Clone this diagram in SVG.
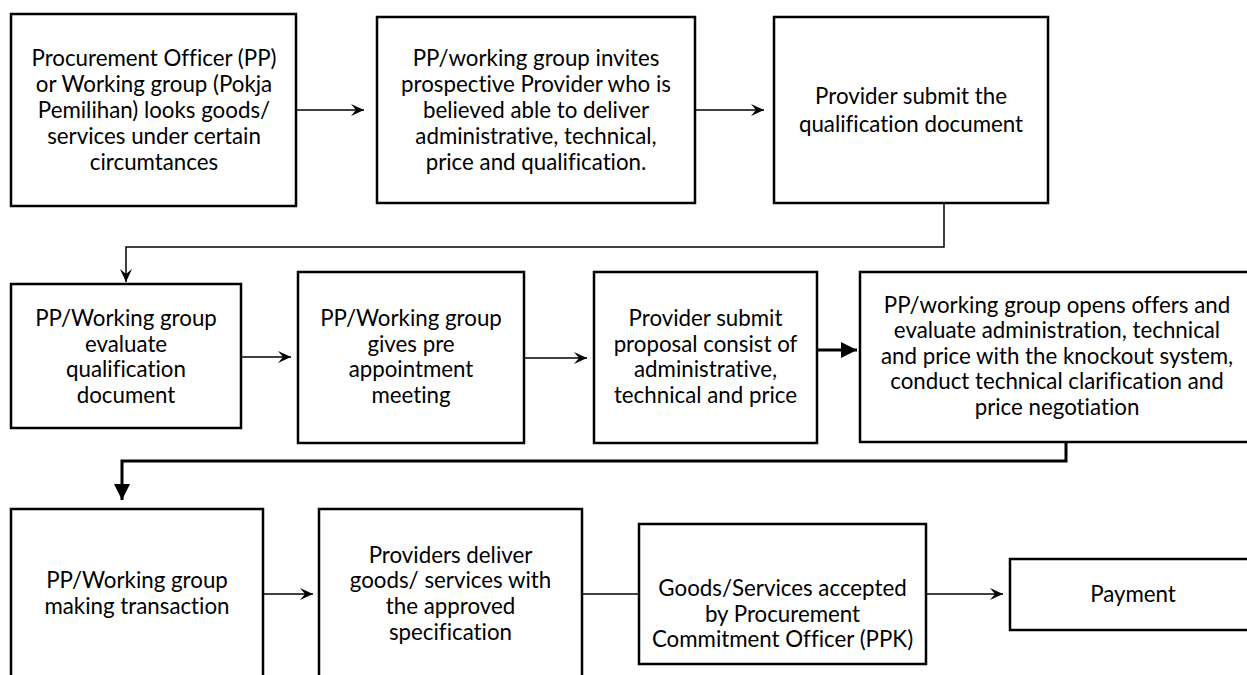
<svg xmlns="http://www.w3.org/2000/svg" width="1247" height="675" viewBox="0 0 1247 675">
  <style>
    .box { fill: #ffffff; stroke: #000000; stroke-width: 2.5; }
    .lbl { font-family: Lato, "Liberation Sans", sans-serif; font-size: 22.3px; fill: #000000; text-anchor: middle; font-variant-ligatures: none; }
    .thin { fill: none; stroke: #000000; stroke-width: 1.5; }
    .thick { fill: none; stroke: #000000; stroke-width: 3; }
  </style>
  <defs>
    <marker id="open" markerUnits="userSpaceOnUse" markerWidth="16" markerHeight="14" refX="14" refY="7" orient="auto">
      <path d="M1,1 L14,7 L1,13 L6,7 Z" fill="#000000"/>
    </marker>
    <marker id="solid" markerUnits="userSpaceOnUse" markerWidth="18" markerHeight="18" refX="16" refY="8" orient="auto">
      <path d="M0,0 L16,8 L0,16 Z" fill="#000000"/>
    </marker>
  </defs>
  <rect width="1247" height="675" fill="#ffffff"/>

  <!-- connectors -->
  <g id="connectors">
    <line class="thin" x1="296" y1="110" x2="364" y2="110" marker-end="url(#open)"/>
    <line class="thin" x1="695" y1="110" x2="764" y2="110" marker-end="url(#open)"/>
    <polyline class="thin" points="944,203 944,247 126,247 126,282" marker-end="url(#open)"/>
    <line class="thin" x1="241" y1="357" x2="291" y2="357" marker-end="url(#open)"/>
    <line class="thin" x1="524" y1="358" x2="587" y2="358" marker-end="url(#open)"/>
    <line class="thick" x1="817" y1="350" x2="857" y2="350" marker-end="url(#solid)"/>
    <polyline class="thick" points="1066,442 1066,461 122,461 122,500" marker-end="url(#solid)"/>
    <line class="thin" x1="263" y1="594" x2="313" y2="594" marker-end="url(#open)"/>
    <line class="thin" x1="582" y1="594" x2="639" y2="594"/>
    <line class="thin" x1="926" y1="594" x2="1003" y2="594" marker-end="url(#open)"/>
  </g>

  <!-- row 1 -->
  <g id="n1">
    <rect class="box" x="11" y="14" width="285" height="192"/>
    <text class="lbl" x="154" y="66">Procurement Officer (PP)</text>
    <text class="lbl" x="154" y="92">or Working group (Pokja</text>
    <text class="lbl" x="154" y="118">Pemilihan) looks goods/</text>
    <text class="lbl" x="154" y="144">services under certain</text>
    <text class="lbl" x="154" y="170">circumtances</text>
  </g>
  <g id="n2">
    <rect class="box" x="377" y="17" width="318" height="186"/>
    <text class="lbl" x="536" y="66">PP/working group invites</text>
    <text class="lbl" x="536" y="92">prospective Provider who is</text>
    <text class="lbl" x="536" y="118">believed able to deliver</text>
    <text class="lbl" x="536" y="144">administrative, technical,</text>
    <text class="lbl" x="536" y="170">price and qualification.</text>
  </g>
  <g id="n3">
    <rect class="box" x="774" y="17" width="274" height="186"/>
    <text class="lbl" x="911" y="104">Provider submit the</text>
    <text class="lbl" x="911" y="132">qualification document</text>
  </g>

  <!-- row 2 -->
  <g id="n4">
    <rect class="box" x="11" y="284" width="230" height="144"/>
    <text class="lbl" x="126" y="326">PP/Working group</text>
    <text class="lbl" x="126" y="352">evaluate</text>
    <text class="lbl" x="126" y="377">qualification</text>
    <text class="lbl" x="126" y="403">document</text>
  </g>
  <g id="n5">
    <rect class="box" x="298" y="272" width="226" height="171"/>
    <text class="lbl" x="411" y="326">PP/Working group</text>
    <text class="lbl" x="411" y="352">gives pre</text>
    <text class="lbl" x="411" y="377">appointment</text>
    <text class="lbl" x="411" y="403">meeting</text>
  </g>
  <g id="n6">
    <rect class="box" x="594" y="272" width="223" height="171"/>
    <text class="lbl" x="705.5" y="326">Provider submit</text>
    <text class="lbl" x="705.5" y="352">proposal consist of</text>
    <text class="lbl" x="705.5" y="377">administrative,</text>
    <text class="lbl" x="705.5" y="403">technical and price</text>
  </g>
  <g id="n7">
    <rect class="box" x="860" y="272" width="394" height="170"/>
    <text class="lbl" x="1057" y="313">PP/working group opens offers and</text>
    <text class="lbl" x="1057" y="338">evaluate administration, technical</text>
    <text class="lbl" x="1057" y="364">and price with the knockout system,</text>
    <text class="lbl" x="1057" y="389">conduct technical clarification and</text>
    <text class="lbl" x="1057" y="415">price negotiation</text>
  </g>

  <!-- row 3 -->
  <g id="n8">
    <rect class="box" x="11" y="509" width="252" height="180"/>
    <text class="lbl" x="137" y="588">PP/Working group</text>
    <text class="lbl" x="137" y="614">making transaction</text>
  </g>
  <g id="n9">
    <rect class="box" x="319" y="509" width="263" height="180"/>
    <text class="lbl" x="450.5" y="563">Providers deliver</text>
    <text class="lbl" x="450.5" y="588">goods/ services with</text>
    <text class="lbl" x="450.5" y="614">the approved</text>
    <text class="lbl" x="450.5" y="640">specification</text>
  </g>
  <g id="n10">
    <rect class="box" x="639" y="524" width="287" height="140"/>
    <text class="lbl" x="782.5" y="596">Goods/Services accepted</text>
    <text class="lbl" x="782.5" y="622">by Procurement</text>
    <text class="lbl" x="782.5" y="647">Commitment Officer (PPK)</text>
  </g>
  <g id="n11">
    <rect class="box" x="1010" y="559" width="246" height="71"/>
    <text class="lbl" x="1133" y="602">Payment</text>
  </g>
</svg>
